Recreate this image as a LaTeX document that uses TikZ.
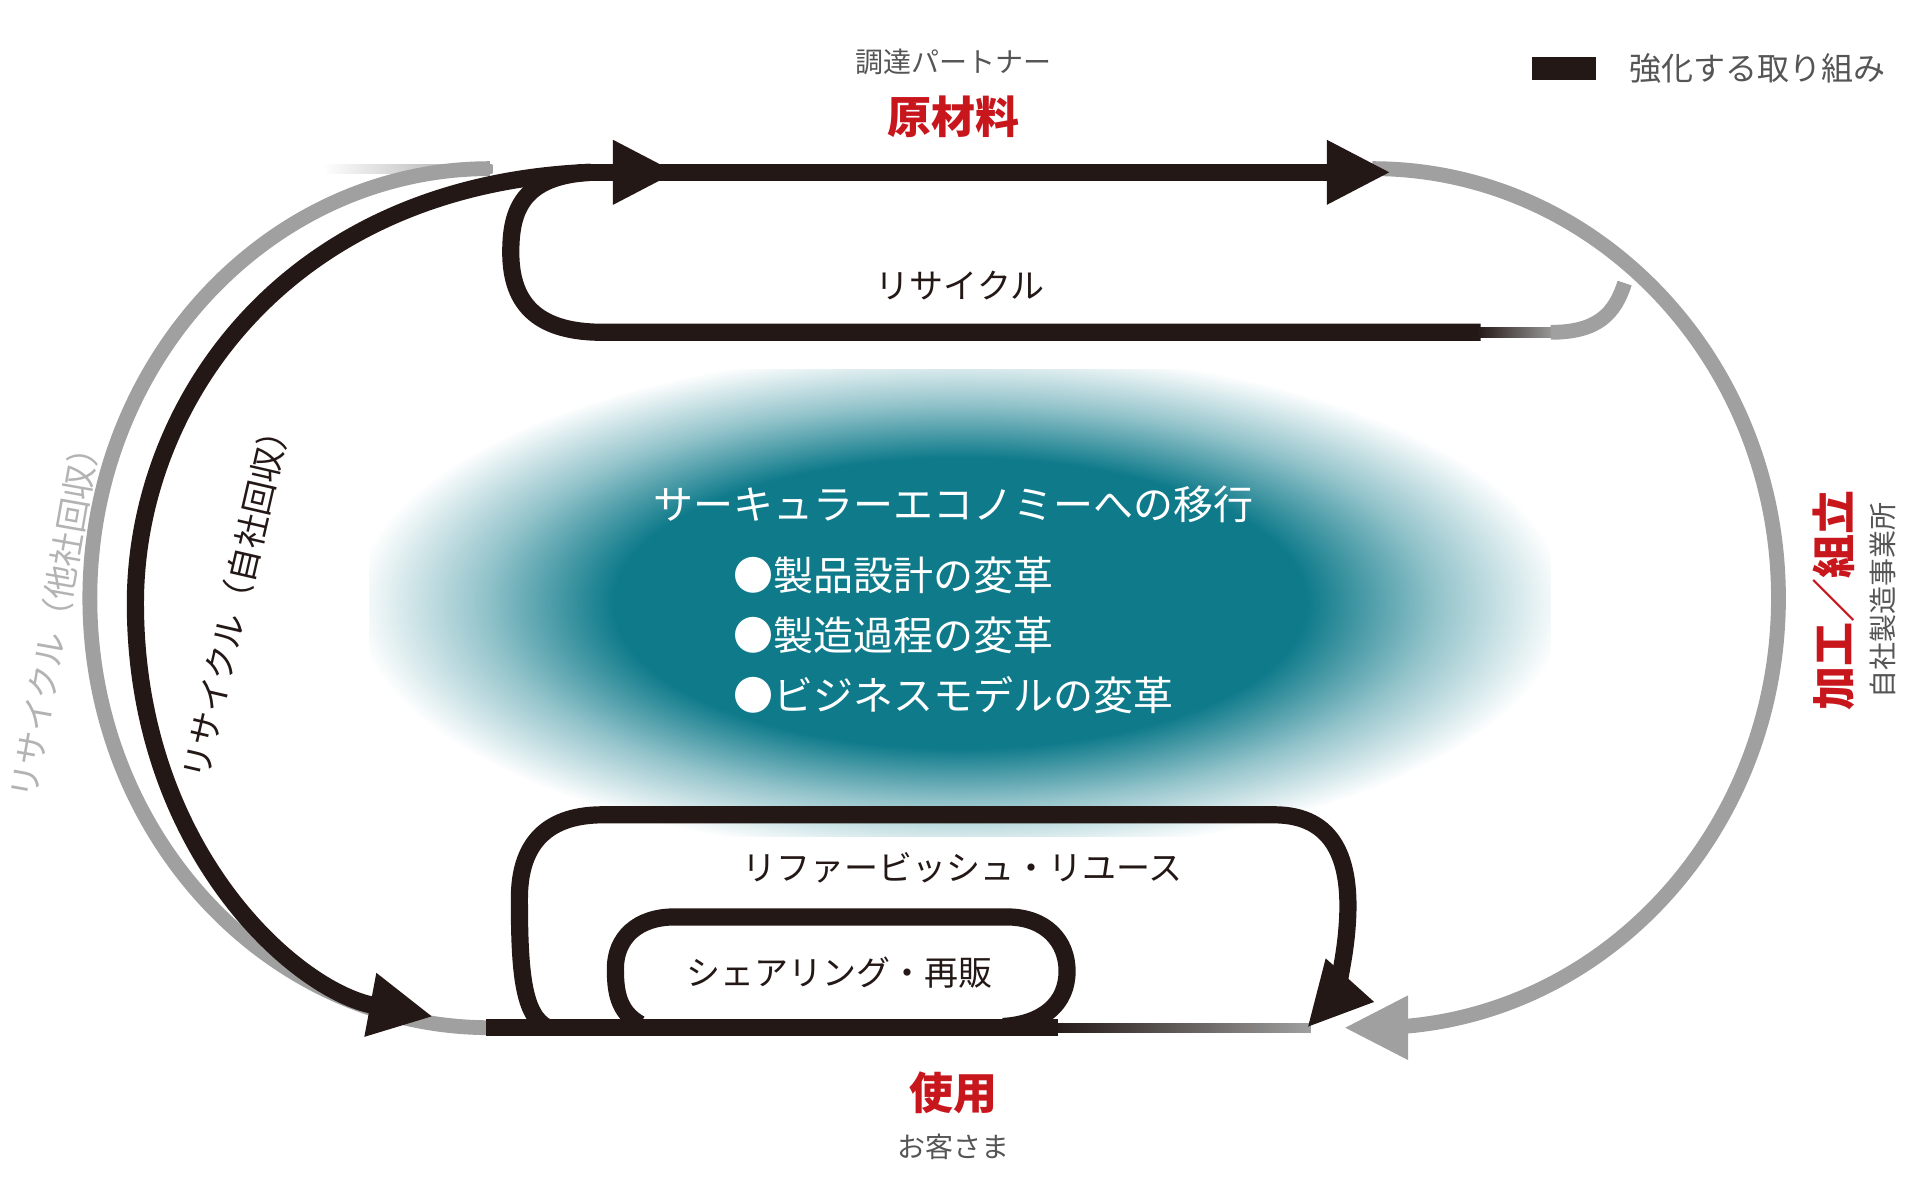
\documentclass[tikz,border=0pt]{standalone}
\usepackage{fontspec}
\setmainfont{Noto Sans CJK JP}
\usetikzlibrary{arrows.meta}
\definecolor{blk}{HTML}{231815}
\definecolor{gry}{HTML}{A0A0A0}
\definecolor{redc}{HTML}{C8161D}
\definecolor{txtg}{HTML}{555555}
\definecolor{teal}{HTML}{0E7A8A}
\pgfdeclareradialshading{glow}{\pgfpoint{0cm}{0cm}}{color(0cm)=(teal); color(0.4cm)=(teal); color(0.55cm)=(teal!45!white); color(0.7cm)=(white); color(1cm)=(white)}
\begin{document}
\begin{tikzpicture}[x=0.6154pt,y=-0.6154pt,
  bl/.style={draw=blk,line width=8.6pt},
  gl/.style={draw=gry,line width=7.4pt},
  tipb/.style={-{Triangle[length=32pt,width=30pt,fill=blk]}},
  tipg/.style={-{Triangle[length=32pt,width=30pt,fill=gry]}},
  lbl/.style={font=\fontsize{17pt}{19pt}\selectfont,text=blk}]
\useasboundingbox (0,0) rectangle (1560,975);
% glow
\begin{scope}
\clip (300,300) rectangle (1260,680);
\shade[shading=glow] (780,490) ellipse (620 and 260);
\end{scope}
% gray outer
\shade[left color=white,right color=gry] (262,133.3) rectangle (400,140.7);
\draw[gl] (398,137) arc[start angle=-90,end angle=-270,x radius=325,y radius=349];
\draw[gl,tipg] (1115,137) arc[start angle=-90,end angle=90,x radius=330,y radius=349] -- (1092,835);
\shade[left color=blk,right color=gry] (855,831.3) rectangle (1065,838.7);
% recycle inner loop
\draw[bl] (480,140) .. controls (425,143) and (415,170) .. (415,205) .. controls (415,250) and (440,270) .. (490,270) -- (1203,270);
\shade[left color=blk,right color=gry] (1200,265.7) rectangle (1265,274.3);
\draw[gl] (1260,270) .. controls (1298,270) and (1312,255) .. (1320,230);
% top black
\draw[bl] (470,140) -- (1080,140);
\draw[bl,tipb] (470,140) -- (550,140);
\draw[bl,tipb] (600,140) -- (1130,140);
% left black
\draw[bl,tipb] (480,140) .. controls (230,150) and (110,330) .. (110,490) .. controls (110,690) and (240,805) .. (352,826);
\draw[bl] (860,835) -- (395,835);
% refurbish loop
\draw[bl,tipb] (445,835) .. controls (425,825) and (422,790) .. (422,730) .. controls (422,690) and (440,662) .. (490,662) -- (1035,662) .. controls (1085,662) and (1097,700) .. (1095,745) .. controls (1093,790) and (1080,815) .. (1062,835);
% sharing loop
\draw[bl] (520,832) .. controls (502,822) and (500,805) .. (500,787) .. controls (500,762) and (518,745) .. (548,745) -- (818,745) .. controls (850,745) and (867,765) .. (867,789) .. controls (867,815) and (848,832) .. (815,834);
% legend
\fill[blk] (1245,46) rectangle (1297,65);
\node[anchor=west,font=\fontsize{16pt}{18pt}\selectfont,text=txtg] (leg) at (1318,56) {強化する取り組み};
% labels
\node[font=\fontsize{14pt}{16pt}\selectfont,text=txtg] (p1) at (775,50) {調達パートナー};
\node[font=\fontsize{22pt}{24pt}\selectfont\bfseries,text=redc] (p2) at (775,95) {原材料};
\node[font=\fontsize{22pt}{24pt}\selectfont\bfseries,text=redc] (u1) at (775,888) {使用};
\node[font=\fontsize{14pt}{16pt}\selectfont,text=txtg] (u2) at (775,932) {お客さま};
\node[rotate=90,font=\fontsize{22pt}{24pt}\selectfont\bfseries,text=redc] (k1) at (1490,488) {加工／組立};
\node[rotate=90,font=\fontsize{14pt}{16pt}\selectfont,text=txtg] (k2) at (1530,488) {自社製造事業所};
\node[lbl] (r1) at (780,232) {リサイクル};
\node[lbl,rotate=77] (r2) at (192,485) {リサイクル（自社回収）};
\node[lbl,rotate=80,text=gry!80!white] (r3) at (45,500) {リサイクル（他社回収）};
\node[lbl] (r4) at (782,705) {リファービッシュ・リユース};
\node[lbl] (r5) at (682,790) {シェアリング・再販};
% center text
\node[text=white,font=\fontsize{20pt}{22pt}\selectfont] (c0) at (775,410) {サーキュラーエコノミーへの移行};
\node[text=white,font=\fontsize{20pt}{30pt}\selectfont,anchor=north west,align=left] (c1) at (590,447) {●製品設計の変革\\●製造過程の変革\\●ビジネスモデルの変革};
\end{tikzpicture}
\end{document}
